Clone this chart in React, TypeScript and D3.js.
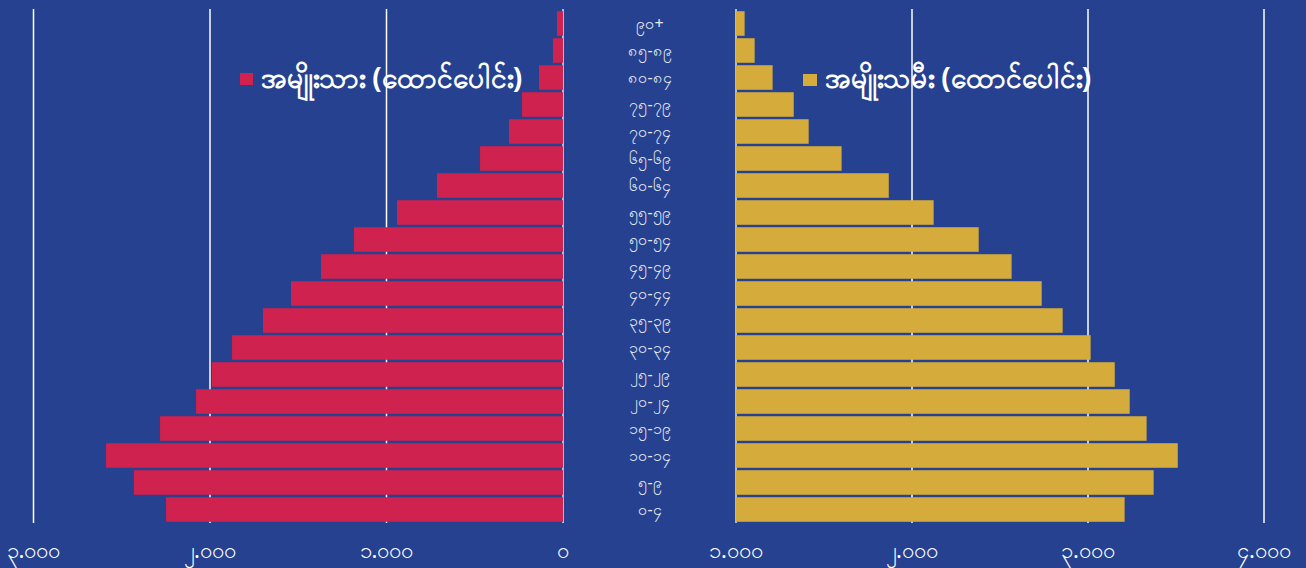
import React from "react";
import * as d3 from "d3";

const ageGroups = [
  "၉၀+", "၈၅-၈၉", "၈၀-၈၄", "၇၅-၇၉", "၇၀-၇၄", "၆၅-၆၉", "၆၀-၆၄",
  "၅၅-၅၉", "၅၀-၅၄", "၄၅-၄၉", "၄၀-၄၄", "၃၅-၃၉", "၃၀-၃၄", "၂၅-၂၉",
  "၂၀-၂၄", "၁၅-၁၉", "၁၀-၁၄", "၅-၉", "၀-၄",
];
const maleValues = [34, 57, 136, 232, 306, 470, 714, 940, 1184, 1371, 1541, 1700, 1875, 1989, 2079, 2283, 2589, 2431, 2249];
const femaleValues = [49, 106, 208, 328, 413, 600, 868, 1123, 1379, 1566, 1737, 1856, 2015, 2152, 2237, 2333, 2510, 2373, 2208];
const tickValues = [0, 1000, 2000, 3000];
const leftTickLabels = ["၀", "၁.၀၀၀", "၂.၀၀၀", "၃.၀၀၀"];
const rightTickLabels = ["၁.၀၀၀", "၂.၀၀၀", "၃.၀၀၀", "၄.၀၀၀"];
const maleLabel = "အမျိုးသား (ထောင်ပေါင်း)";
const femaleLabel = "အမျိုးသမီး (ထောင်ပေါင်း)";

const W = 1306;
const H = 568;
const BG = "#25418F";
const RED = "#D0224E";
const GOLD = "#D5AC3B";
const FONT = "'Noto Sans', 'DejaVu Sans', sans-serif";

export default function App() {
  const xLeft = d3.scaleLinear().domain([0, 3000]).range([563, 33.5]);
  const xRight = d3.scaleLinear().domain([0, 3000]).range([736, 1264]);
  const y = d3
    .scaleBand<string>()
    .domain(ageGroups)
    .range([10, 523])
    .paddingInner(0.09)
    .paddingOuter(0.045);
  const gridTop = 9;
  const gridBottom = 523;

  return (
    <svg
      width={W}
      height={H}
      style={{ position: "absolute", left: 0, top: 0, display: "block" }}
    >
      <rect x={0} y={0} width={W} height={H} fill={BG} />
      {tickValues.map((t, i) => (
        <line
          key={"gl" + i}
          x1={xLeft(t)}
          x2={xLeft(t)}
          y1={gridTop}
          y2={gridBottom}
          stroke={t === 0 ? "#dde2ee" : "#ffffff"}
          strokeWidth={1.5}
        />
      ))}
      {tickValues.map((t, i) => (
        <line
          key={"gr" + i}
          x1={xRight(t)}
          x2={xRight(t)}
          y1={gridTop}
          y2={gridBottom}
          stroke={t === 0 ? "#dde2ee" : "#ffffff"}
          strokeWidth={1.5}
        />
      ))}
      {ageGroups.map((g, i) => (
        <rect
          key={"m" + i}
          x={xLeft(maleValues[i])}
          y={y(g)}
          width={xLeft(0) - xLeft(maleValues[i])}
          height={y.bandwidth()}
          fill={RED}
        />
      ))}
      {ageGroups.map((g, i) => (
        <rect
          key={"f" + i}
          x={xRight(0)}
          y={y(g)}
          width={xRight(femaleValues[i]) - xRight(0)}
          height={y.bandwidth()}
          fill={GOLD}
        />
      ))}
      {ageGroups.map((g, i) => (
        <text
          key={"a" + i}
          x={650}
          y={(y(g) as number) + y.bandwidth() / 2}
          dy="0.35em"
          textAnchor="middle"
          fill="#e8ebf3"
          fontFamily={FONT}
          fontSize={16}
        >
          {g}
        </text>
      ))}
      {tickValues.map((t, i) => (
        <text
          key={"tl" + i}
          x={xLeft(t)}
          y={550}
          dy="0.35em"
          textAnchor="middle"
          fill="#ffffff"
          fontFamily={FONT}
          fontSize={22}
        >
          {leftTickLabels[i]}
        </text>
      ))}
      {tickValues.map((t, i) => (
        <text
          key={"tr" + i}
          x={xRight(t)}
          y={550}
          dy="0.35em"
          textAnchor="middle"
          fill="#ffffff"
          fontFamily={FONT}
          fontSize={22}
        >
          {rightTickLabels[i]}
        </text>
      ))}
      <rect x={240} y={73} width={13} height={12} fill={RED} />
      <text
        x={261}
        y={78}
        dy="0.35em"
        fill="#ffffff"
        fontFamily={FONT}
        fontSize={28}
        fontWeight="bold"
      >
        {maleLabel}
      </text>
      <rect x={803} y={74} width={14} height={12} fill={GOLD} />
      <text
        x={825}
        y={78}
        dy="0.35em"
        fill="#ffffff"
        fontFamily={FONT}
        fontSize={28}
        fontWeight="bold"
      >
        {femaleLabel}
      </text>
    </svg>
  );
}
